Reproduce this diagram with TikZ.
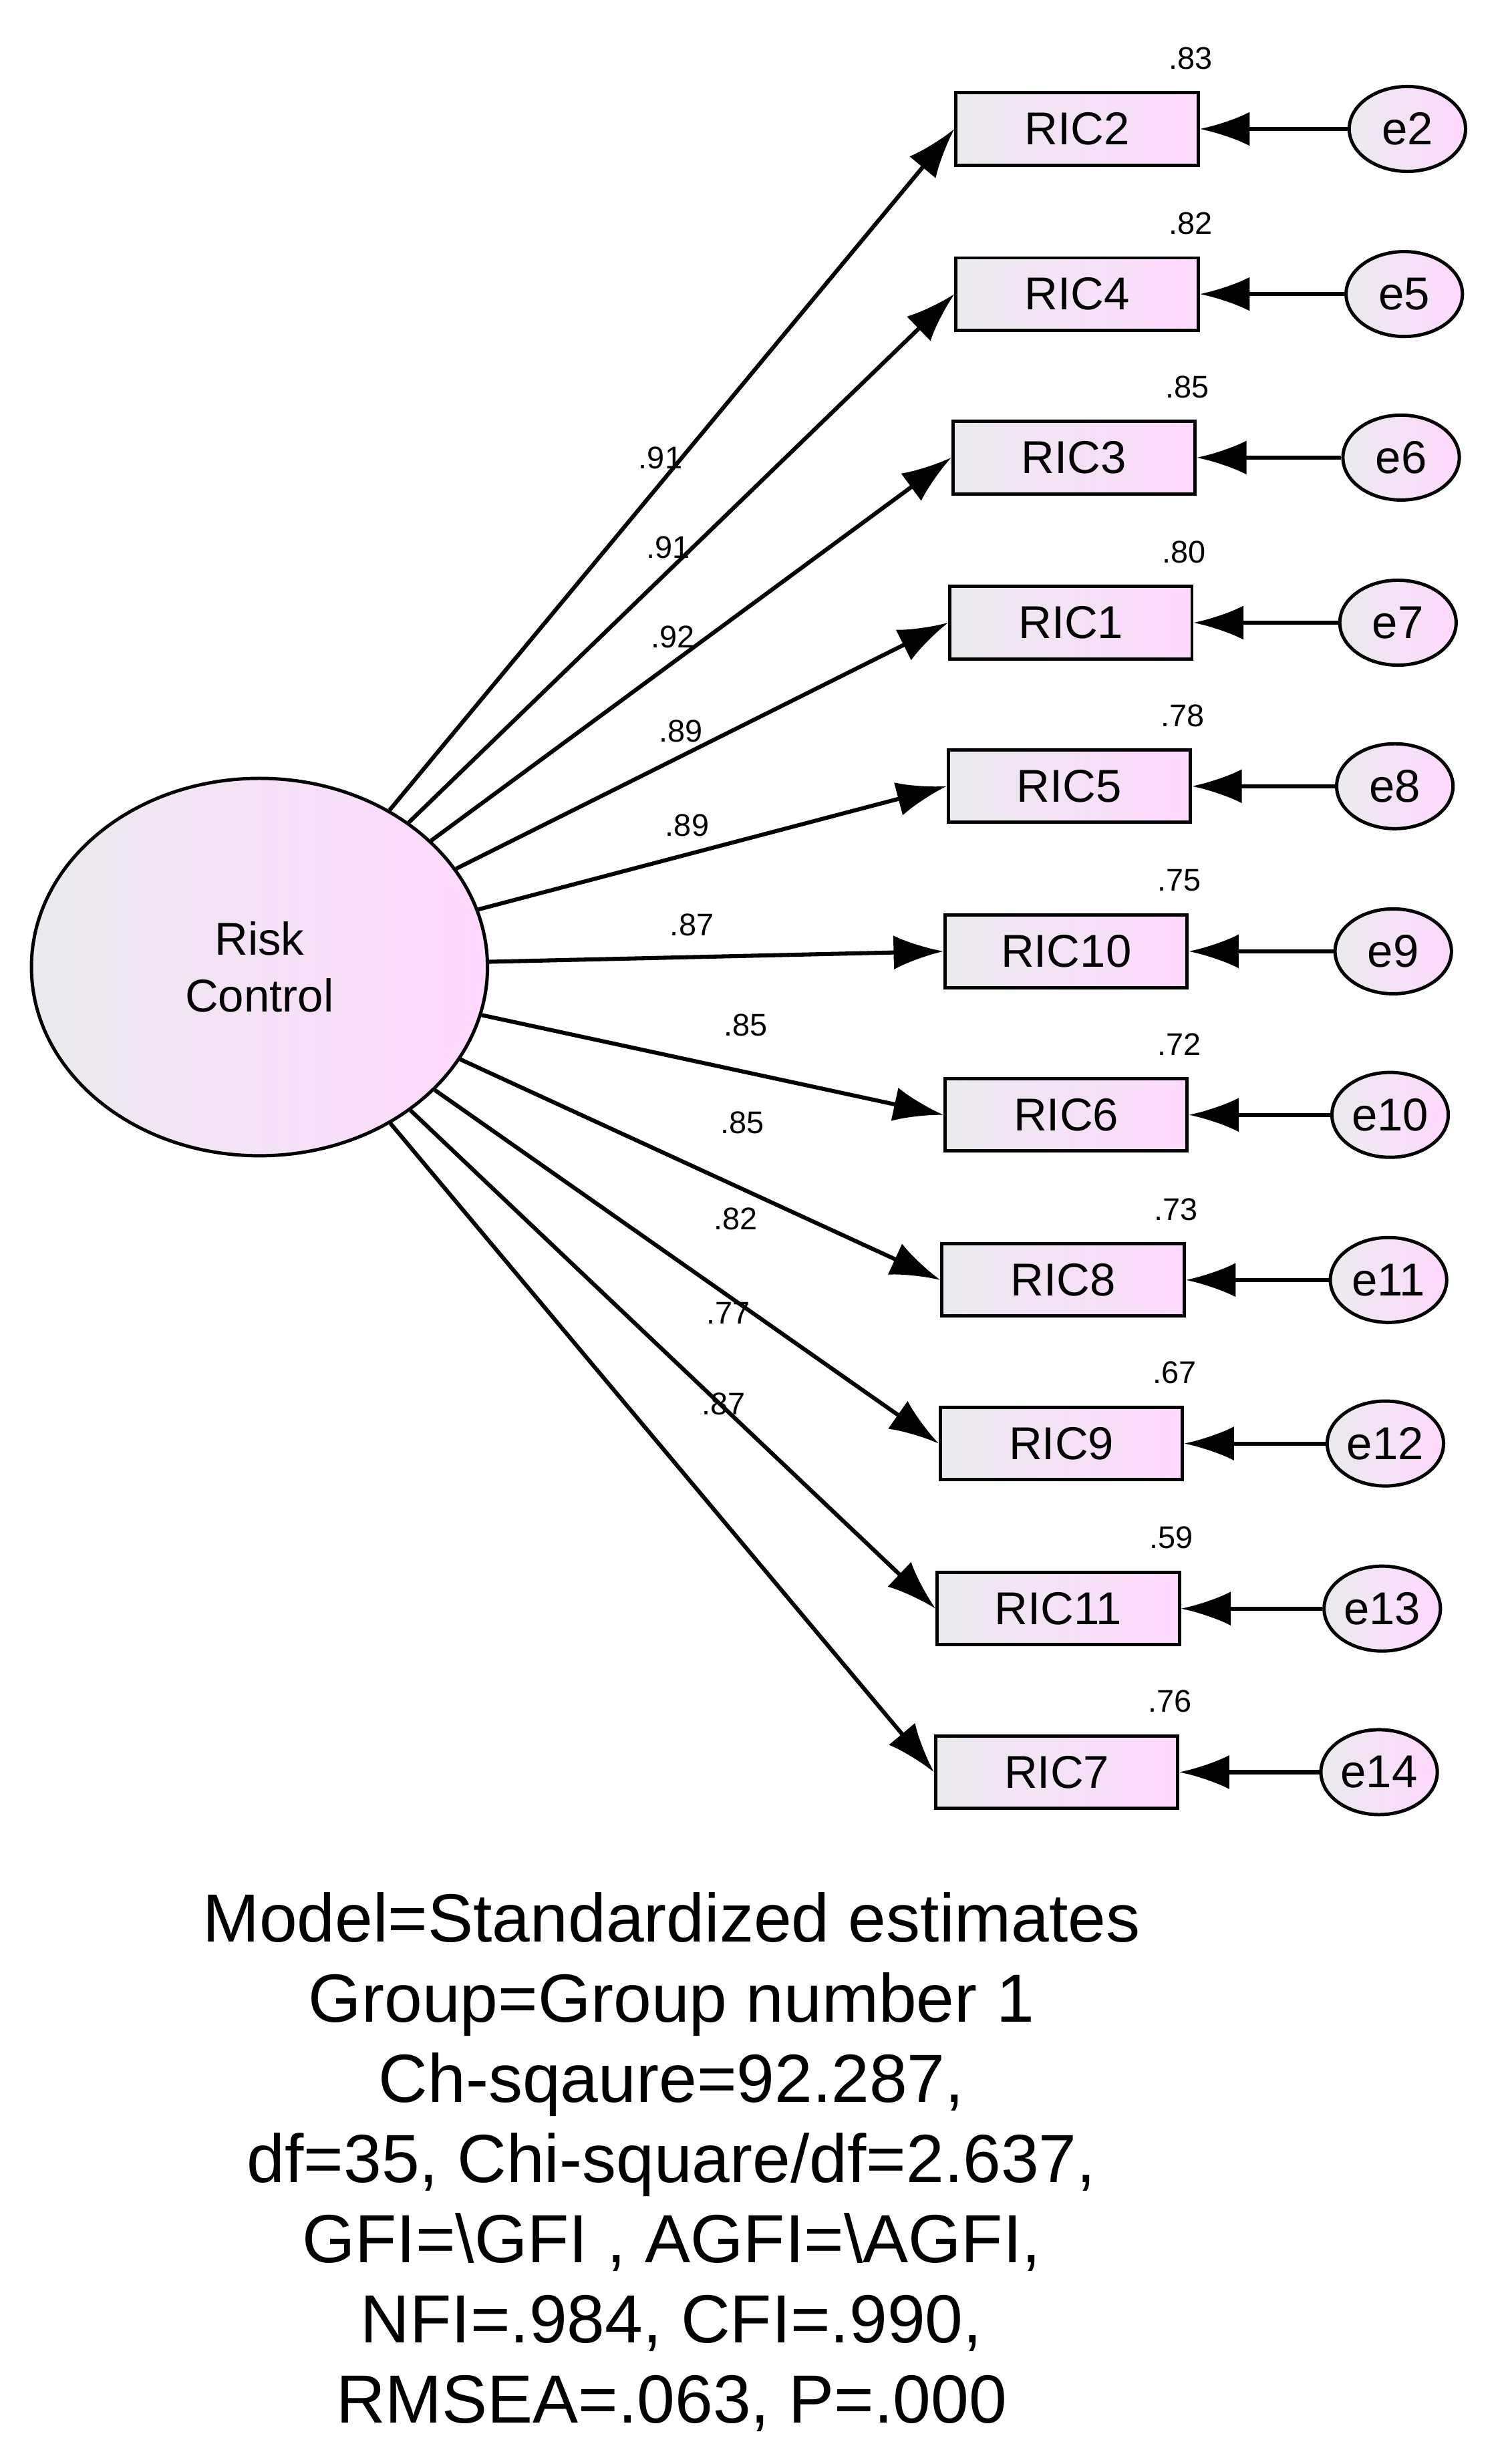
\documentclass[tikz,border=0pt]{standalone}
\usepackage{fontspec}
\setmainfont{Liberation Sans}
\usetikzlibrary{shapes.geometric,arrows.meta}
\begin{document}
\begin{tikzpicture}[x=0.03cm,y=-0.03cm,
  sh/.style={left color=blue!8!gray!15,right color=magenta!15,draw=black,line width=1.8pt},
  box/.style={sh,minimum width=4.62cm,minimum height=1.38cm,inner sep=0pt,font=\fontsize{25}{28}\selectfont},
  err/.style={sh,ellipse,minimum width=2.22cm,minimum height=1.62cm,inner sep=0pt,font=\fontsize{25}{28}\selectfont},
  lbl/.style={font=\fontsize{17}{20}\selectfont},
  arr/.style={line width=2.2pt,-{Latex[length=0.95cm,width=0.65cm]}}]
\useasboundingbox (0,0) rectangle (960,1567);
\node[sh,ellipse,minimum width=8.7cm,minimum height=7.2cm,align=center,font=\fontsize{25}{31}\selectfont] (risk) at (165,615) {Risk\\Control};
\foreach \n/\bx/\ex/\y/\r/\lx/\ly/\l in {
 2/685/895/82/.83/420/291/.91,
 4/685/893/187/.82/425/348/.91,
 3/683/891/291/.85/428/405/.92,
 1/681/889/396/.80/433/465/.89,
 5/680/887/500/.78/437/525/.89,
 10/678/886/605/.75/440/588/.87,
 6/678/884/709/.72/474/652/.85,
 8/676/883/814/.73/472/714/.85,
 9/675/881/918/.67/468/775/.82,
 11/673/879/1023/.59/463/835/.77,
 7/672/877/1127/.76/460/893/.87}{
  \node[box] (b\n) at (\bx,\y) {RIC\n};
  \node[lbl] at (\bx+72,\y-45) {\r};
  \node[lbl] at (\lx,\ly) {\l};
  \draw[arr] (risk) -- (b\n.west);
}
\foreach \n/\e/\x/\y in {2/2/895/82,4/5/893/187,3/6/891/291,1/7/889/396,5/8/887/500,10/9/886/605,6/10/884/709,8/11/883/814,9/12/881/918,11/13/879/1023,7/14/877/1127}{
  \node[err] (e\e) at (\x,\y) {e\e};
  \draw[arr] (e\e) -- (b\n.east);
}
\node[align=center,font=\fontsize{37}{43.5}\selectfont] (fit) at (427,1375) {Model=Standardized estimates\\Group=Group number 1\\Ch-sqaure=92.287,\\df=35, Chi-square/df=2.637,\\GFI=\textbackslash GFI , AGFI=\textbackslash AGFI,\\NFI=.984, CFI=.990,\\RMSEA=.063, P=.000};
\end{tikzpicture}
\end{document}
